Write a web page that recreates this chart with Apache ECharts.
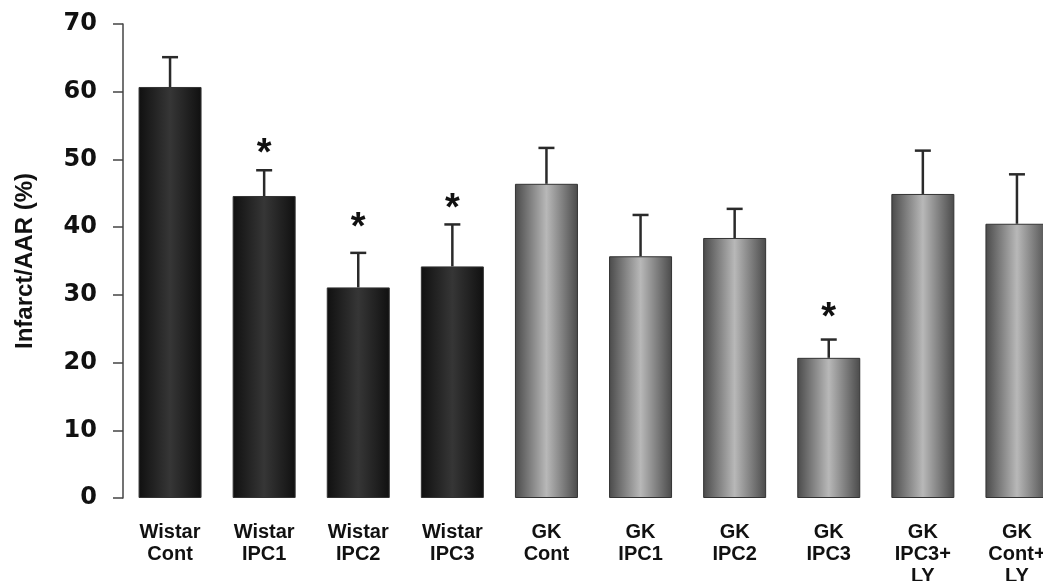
<!DOCTYPE html>
<html>
<head>
<meta charset="utf-8">
<script src="https://cdn.jsdelivr.net/npm/echarts@6/dist/echarts.min.js"></script>
<style>
html,body{margin:0;padding:0;background:#fff;}
#chart{width:1043px;height:581px;}
</style>
</head>
<body>
<div id="chart"></div>
<script>
var categories = ['Wistar\nCont','Wistar\nIPC1','Wistar\nIPC2','Wistar\nIPC3','GK\nCont','GK\nIPC1','GK\nIPC2','GK\nIPC3','GK\nIPC3+\nLY','GK\nCont+\nLY'];
var means = [60.7, 44.6, 31.1, 34.2, 46.4, 35.7, 38.4, 20.7, 44.9, 40.5];
var errorTops = [65.1, 48.4, 36.2, 40.4, 51.7, 41.8, 42.7, 23.4, 51.3, 47.8];
var starPos = [null, 51.7, 40.8, 43.6, null, null, null, 27.5, null, null];
var yTicks = [0, 10, 20, 30, 40, 50, 60, 70];
var groups = ['Wistar','Wistar','Wistar','Wistar','GK','GK','GK','GK','GK','GK'];

var wistarFill = new echarts.graphic.LinearGradient(0,0,1,0,[
  {offset:0,color:'#101010'},{offset:0.5,color:'#363636'},{offset:1,color:'#101010'}]);
var gkFill = new echarts.graphic.LinearGradient(0,0,1,0,[
  {offset:0,color:'#4a4a4a'},{offset:0.5,color:'#b8b8b8'},{offset:1,color:'#4a4a4a'}]);

var barData = means.map(function(v,i){
  return {value:v, itemStyle:{color: groups[i]==='Wistar'?wistarFill:gkFill, borderColor:'#333', borderWidth:1}};
});
var errData = means.map(function(v,i){ return [i, v, errorTops[i]]; });
var starData = [];
starPos.forEach(function(v,i){ if(v!==null) starData.push([i,v]); });

var chart = echarts.init(document.getElementById('chart'));
chart.setOption({
  animation:false,
  backgroundColor:'#fff',
  grid:{left:123, top:24, height:474, width:941, containLabel:false, outerBoundsMode:'none'},
  xAxis:{
    type:'category', data:categories,
    axisLine:{show:false}, axisTick:{show:false},
    axisLabel:{interval:0, margin:23, color:'#111', fontFamily:'Liberation Sans', fontWeight:'bold', fontSize:20, lineHeight:22}
  },
  yAxis:{
    type:'value', min:0, max:70, interval:10,
    name:'Infarct/AAR (%)', nameLocation:'middle', nameGap:86,
    nameTextStyle:{color:'#111', fontFamily:'Liberation Sans', fontWeight:'bold', fontSize:24},
    splitLine:{show:false},
    axisLine:{show:true, lineStyle:{color:'#444', width:1.5}},
    axisTick:{show:true, length:10, lineStyle:{color:'#444', width:1.5}},
    axisLabel:{margin:26, color:'#111', fontFamily:'DejaVu Sans', fontWeight:'bold', fontSize:24,
      formatter:function(v){ return yTicks.indexOf(v)>=0 ? String(v) : ''; }}
  },
  series:[
    {type:'bar', data:barData, barWidth:63, z:2},
    {type:'custom', z:3, data:errData,
      renderItem:function(params, api){
        var x = api.coord([api.value(0), api.value(1)]);
        var t = api.coord([api.value(0), api.value(2)]);
        var hw = 8;
        return {type:'group', children:[
          {type:'line', shape:{x1:x[0],y1:x[1],x2:t[0],y2:t[1]}, style:{stroke:'#2a2a2a', lineWidth:2.5}},
          {type:'line', shape:{x1:t[0]-hw,y1:t[1],x2:t[0]+hw,y2:t[1]}, style:{stroke:'#2a2a2a', lineWidth:2.5}}
        ]};
      }},
    {type:'custom', z:4, data:starData,
      renderItem:function(params, api){
        var p = api.coord([api.value(0), api.value(1)]);
        return {type:'text', x:p[0], y:p[1]+7, style:{text:'*', fill:'#111', font:'bold 38px "Liberation Sans"', align:'center', verticalAlign:'middle'}};
      }}
  ]
});
</script>
</body>
</html>
